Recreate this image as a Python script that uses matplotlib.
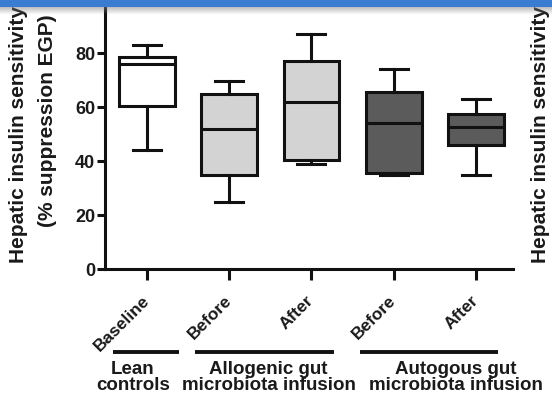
import numpy as np
import matplotlib
matplotlib.use("Agg")
import matplotlib.pyplot as plt
from matplotlib.transforms import blended_transform_factory

plt.rcParams['font.family'] = ['Liberation Sans', 'DejaVu Sans']
plt.rcParams['font.weight'] = 'bold'

# values (% suppression EGP)
categories = ['Baseline', 'Before', 'After', 'Before', 'After']
whislo = [44, 25, 39, 35, 35]
q1 = [60.5, 35, 40.5, 35.5, 46]
med = [76, 52, 62, 54, 52.5]
q3 = [78.5, 65, 77, 65.5, 57.5]
whishi = [83, 69.5, 87, 74, 63]
fills = ['white', '#d3d3d3', '#d3d3d3', '#5b5b5b', '#5b5b5b']

groups = ['Lean\ncontrols', 'Allogenic gut\nmicrobiota infusion', 'Autogous gut\nmicrobiota infusion']
group_members = [[1], [2, 3], [4, 5]]

W, H = 552, 398
fig = plt.figure(figsize=(W / 100, H / 100), dpi=100)
ax = fig.add_axes([105 / W, 129 / H, 408 / W, 270 / H])

positions = np.arange(1, len(categories) + 1)
stats = [dict(whislo=a, q1=b, med=c, q3=d, whishi=e, fliers=[])
         for a, b, c, d, e in zip(whislo, q1, med, q3, whishi)]
lw = 2.2
bp = ax.bxp(stats, positions=positions, widths=0.68, patch_artist=True,
            showfliers=False,
            boxprops=dict(linewidth=lw, edgecolor='#111111'),
            medianprops=dict(color='#111111', linewidth=lw),
            whiskerprops=dict(color='#111111', linewidth=lw),
            capprops=dict(color='#111111', linewidth=lw))
for patch, c in zip(bp['boxes'], fills):
    patch.set_facecolor(c)

ax.set_xlim(0.49, 5.45)
ax.set_ylim(0, 100)
ax.set_yticks([0, 20, 40, 60, 80])
ax.set_xticks(positions)
ax.set_xticklabels(categories, rotation=45, ha='right', rotation_mode='anchor',
                   va='center', fontsize=12.5, fontweight='bold', color='#1a1a1a')
for lab in ax.get_yticklabels():
    lab.set_fontsize(13)
    lab.set_fontweight('bold')
    lab.set_color('#1a1a1a')
ax.tick_params(axis='y', length=6, width=lw, pad=1, color='#111111')
ax.tick_params(axis='x', length=8, width=lw, pad=13, color='#111111')
for s in ['top', 'right']:
    ax.spines[s].set_visible(False)
for s in ['left', 'bottom']:
    ax.spines[s].set_linewidth(lw)
    ax.spines[s].set_color('#111111')

# group lines and labels under the axis
tr = blended_transform_factory(ax.transData, ax.transAxes)
text_shift = [-0.17, -0.02, 0.26]
for name, members, sh in zip(groups, group_members, text_shift):
    x0 = members[0] - 0.41
    x1 = members[-1] + (0.39 if len(members) == 1 else 0.27)
    ax.plot([x0, x1], [-0.307, -0.307], color='#111111', lw=lw + 0.6,
            transform=tr, clip_on=False, solid_capstyle='butt')
    ax.text((members[0] + members[-1]) / 2 + sh, -0.34, name, transform=tr,
            ha='center', va='top', fontsize=13.5, fontweight='bold',
            linespacing=0.95, color='#1a1a1a')

# y label, two lines
fig.text(18 / W, 1 - 263 / H, 'Hepatic insulin sensitivity', rotation=90,
         rotation_mode='anchor', ha='left', va='center', fontsize=15,
         fontweight='bold', color='#1a1a1a')
fig.text(48 / W, 1 - 121 / H, '(% suppression EGP)', rotation=90,
         rotation_mode='anchor', ha='center', va='center', fontsize=15,
         fontweight='bold', color='#1a1a1a')
# label of the neighbouring panel on the right
fig.text(540 / W, 1 - 263 / H, 'Hepatic insulin sensitivity', rotation=90,
         rotation_mode='anchor', ha='left', va='center', fontsize=15,
         fontweight='bold', color='#1a1a1a')

# blue bar with shadow at the top of the screenshot
bar_h = 15
img = np.zeros((bar_h, 2, 4))
img[:7] = [0.23, 0.49, 0.82, 1.0]
fade = np.linspace(0.5, 0.0, bar_h - 7)
img[7:, :, :3] = 0.5
img[7:, :, 3] = fade[:, None]
bax = fig.add_axes([0, 1 - bar_h / H, 1, bar_h / H], zorder=10)
bax.imshow(img, aspect='auto', interpolation='nearest')
bax.axis('off')

fig.savefig('out.png', dpi=100)
